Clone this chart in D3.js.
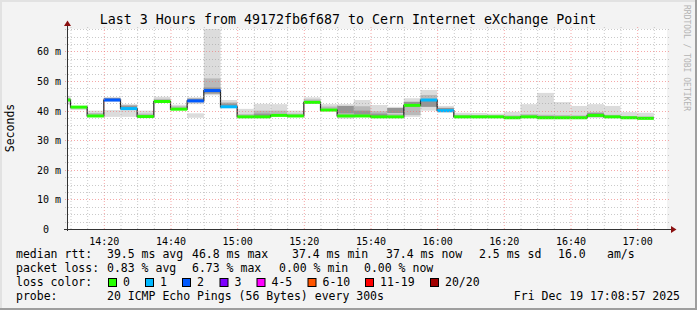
<!DOCTYPE html>
<html><head><meta charset="utf-8">
<script src="https://cdn.jsdelivr.net/npm/d3@7"></script>
<style>html,body{margin:0;padding:0;background:#f0f0f0;}svg{display:block;font-family:"DejaVu Sans Mono",monospace;}</style>
</head><body>
<script>
// ---- data ----
const intervalEnds = ["14:10","14:15","14:20","14:25","14:30","14:35","14:40","14:45","14:50","14:55",
  "15:00","15:05","15:10","15:15","15:20","15:25","15:30","15:35","15:40","15:45",
  "15:50","15:55","16:00","16:05","16:10","16:15","16:20","16:25","16:30","16:35",
  "16:40","16:45","16:50","16:55","17:00","17:05"];
const medianMs = [43.6,41.2,38.2,43.6,40.7,38.0,43.1,40.5,43.3,46.8,
  41.3,37.9,37.9,38.4,38.2,42.8,40.2,38.2,38.2,37.9,
  37.9,41.8,43.6,40.0,37.9,37.9,37.9,37.6,37.9,37.6,
  37.6,37.6,38.4,37.9,37.6,37.4];
const lossCount = [0,0,0,2,1,0,0,0,2,2,
  1,0,0,0,0,0,0,0,0,0,
  0,0,1,1,0,0,0,0,0,0,
  0,0,0,0,0,0];
const smokeLo = [42.0,40.2,38.0,43.0,37.9,37.8,42.7,40.4,42.2,45.2,
  41.0,37.8,37.8,38.2,38.2,42.6,40.2,37.3,38.0,37.8,
  37.8,37.9,40.0,39.3,37.8,37.8,37.8,37.5,37.8,37.5,
  37.5,37.5,37.5,37.8,37.5,37.3];
const smokeHi = [45.0,41.5,40.0,44.6,42.2,40.0,44.7,42.0,44.5,75.0,
  43.6,40.6,42.3,42.2,40.0,44.5,42.2,42.2,43.6,41.9,
  41.3,44.2,47.0,41.6,39.3,39.2,39.0,39.6,42.2,46.0,
  42.9,41.6,42.2,41.6,39.5,39.3];
const coreLo = [43.2,40.8,38.2,43.3,40.8,38.2,43.0,40.6,42.8,45.6,
  41.3,38.0,38.0,38.4,38.3,42.9,40.4,38.2,38.9,38.0,
  37.9,38.5,41.3,40.0,37.9,37.9,37.9,37.6,37.9,37.6,
  37.6,37.6,37.8,37.9,37.6,37.4];
const coreHi = [44.3,41.3,39.2,44.3,41.8,39.0,44.0,41.5,44.2,50.9,
  42.8,38.8,40.0,40.0,39.0,43.8,41.4,40.0,41.5,39.8,
  39.0,41.3,45.3,41.0,38.6,38.5,38.4,38.4,38.8,38.6,
  38.5,38.4,39.5,38.6,38.2,38.0];
// darker inner smoke (null = none visible)
const innerLo = [null,null,null,43.6,41.0,null,null,null,43.3,45.8,
  41.6,null,38.1,null,null,null,null,39.1,38.6,38.1,
  39.2,41.3,41.3,40.2,null,null,null,null,null,37.7,
  null,null,37.9,null,null,null];
const innerHi = [null,null,null,44.2,41.7,null,null,null,44.0,47.8,
  42.4,null,39.0,null,null,null,null,41.6,40.0,39.0,
  40.9,43.0,43.3,40.9,null,null,null,null,null,38.2,
  null,null,39.2,null,null,null];
// secondary smoke clusters (null = none)
const smoke2Lo = [null,null,null,37.9,null,null,null,null,37.6,null,
  null,null,null,null,null,null,null,null,null,null,
  null,null,null,null,null,null,null,null,null,null,
  null,null,null,null,null,null];
const smoke2Hi = [null,null,null,40.2,null,null,null,null,39.1,null,
  null,null,null,null,null,null,null,null,null,null,
  null,null,null,null,null,null,null,null,null,null,
  null,null,null,null,null,null];
const yTicks = [0,10,20,30,40,50,60];
const yTickLabels = ["0  ","10 m","20 m","30 m","40 m","50 m","60 m"];
const lossLegend = ["0","1","2","3","4-5","6-10","11-19","20/20"];
const lossColors = ["#26ff00","#00b8ff","#0059ff","#7e00ff","#ff00ff","#ff5500","#ff0000","#a10000"];
const title = "Last 3 Hours from 49172fb6f687 to Cern Internet eXchange Point";
const rttStats = [["median rtt:",16],["39.5 ms avg",107],["46.8 ms max",192],["37.4 ms min",292],["37.4 ms now",386],["2.5 ms sd",479],["16.0",558],["am/s",607]];
const lossStats = [["packet loss:",16],["0.83 % avg",107],["6.73 % max",192],["0.00 % min",279],["0.00 % now",364]];
const probeText = "20 ICMP Echo Pings (56 Bytes) every 300s";
const stampText = "Fri Dec 19 17:08:57 2025";

// ---- layout ----
const W=697,H=310, X0=67, X1=667, Y0=229, Y1=29;
const tStart = new Date(2025,11,19,14,8,57), tEnd = new Date(2025,11,19,17,8,57);
const x = d3.scaleTime().domain([tStart,tEnd]).range([X0,X1]);
const y = d3.scaleLinear().domain([0,67.6]).range([Y0,Y1]);
const parseT = s => { const [h,m]=s.split(":").map(Number); return new Date(2025,11,19,h,m,0); };
const data = intervalEnds.map((s,i)=>{
  const te = parseT(s); let ts = new Date(te.getTime()-300000); if (ts<tStart) ts=tStart;
  return {ts,te,med:medianMs[i],loss:lossCount[i],lo:smokeLo[i],hi:smokeHi[i],clo:coreLo[i],chi:coreHi[i],
    ilo:innerLo[i],ihi:innerHi[i],lo2:smoke2Lo[i],hi2:smoke2Hi[i]};
});
const lossColor = n => n===0?lossColors[0]:n===1?lossColors[1]:n===2?lossColors[2]:n===3?lossColors[3]:n<=5?lossColors[4]:n<=10?lossColors[5]:n<=19?lossColors[6]:lossColors[7];

const svg = d3.select("body").append("svg").attr("width",W).attr("height",H);
svg.append("rect").attr("width",W).attr("height",H).attr("fill","#f3f3f3");
// frame shading
svg.append("rect").attr("x",0).attr("y",0).attr("width",W).attr("height",2).attr("fill","#e2e2e2");
svg.append("rect").attr("x",0).attr("y",0).attr("width",2).attr("height",H).attr("fill","#e2e2e2");
svg.append("rect").attr("x",0).attr("y",H-2).attr("width",W).attr("height",2).attr("fill","#9e9e9e");
svg.append("rect").attr("x",W-2).attr("y",0).attr("width",2).attr("height",H).attr("fill","#9e9e9e");

svg.append("rect").attr("x",X0).attr("y",Y1).attr("width",X1-X0).attr("height",Y0-Y1).attr("fill","#ffffff");
svg.append("defs").append("clipPath").attr("id","clip").append("rect").attr("x",X0).attr("y",Y1).attr("width",X1-X0).attr("height",Y0-Y1);

const plot = svg.append("g").attr("clip-path","url(#clip)");
// smoke
const band = (lo,hi,fill)=>plot.append("g").selectAll("rect").data(data.filter(d=>d[lo]!=null)).join("rect")
  .attr("x",d=>x(d.ts)).attr("width",d=>x(d.te)-x(d.ts))
  .attr("y",d=>y(d[hi])).attr("height",d=>y(d[lo])-y(d[hi])).attr("fill",fill);
band("lo","hi","#dcdcdc");
band("lo2","hi2","#dcdcdc");
band("clo","chi","#b9b9b9");
band("ilo","ihi","#959595");

// grid
const grid = svg.append("g");
const minorT = d3.timeMinute.every(5).range(tStart,tEnd);
minorT.forEach(t=>{
  const major = t.getMinutes()%20===0;
  grid.append("line").attr("x1",x(t)+0.5).attr("x2",x(t)+0.5).attr("y1",Y1-2).attr("y2",Y0+2)
    .attr("stroke",major?"rgba(240,110,110,0.6)":"rgba(150,150,150,0.5)").attr("stroke-dasharray","1,2");
});
d3.range(0,67.6,2.5).forEach(v=>{
  if (v===0) return;
  const major = v%10===0;
  grid.append("line").attr("x1",X0-2).attr("x2",X1+2).attr("y1",Math.round(y(v))+0.5).attr("y2",Math.round(y(v))+0.5)
    .attr("stroke",major?"rgba(240,110,110,0.6)":"rgba(150,150,150,0.5)").attr("stroke-dasharray","1,2");
});

// median black step line
const pts = [];
data.forEach(d=>{ pts.push([x(d.ts),y(d.med)]); pts.push([x(d.te),y(d.med)]); });
plot.append("path").attr("d",d3.line()(pts)).attr("fill","none").attr("stroke","#202020").attr("stroke-width",1.2);
// colored median segments
plot.append("g").selectAll("line").data(data).join("line")
  .attr("x1",d=>x(d.ts)).attr("x2",d=>x(d.te)).attr("y1",d=>y(d.med)).attr("y2",d=>y(d.med))
  .attr("stroke",d=>lossColor(d.loss)).attr("stroke-width",3);

// axes
const ax = svg.append("g");
ax.append("line").attr("x1",X0+0.5).attr("x2",X0+0.5).attr("y1",Y0+2).attr("y2",25).attr("stroke","#333");
ax.append("path").attr("d",`M${X0-3},26L${X0+0.5},20.5L${X0+4},26Z`).attr("fill","#8b1010");
ax.append("line").attr("x1",X0-3).attr("x2",672).attr("y1",Y0+0.5).attr("y2",Y0+0.5).attr("stroke","#333");
ax.append("path").attr("d",`M671,${Y0-3}L676.5,${Y0+0.5}L671,${Y0+4}Z`).attr("fill","#8b1010");

// tick labels
const xa = svg.append("g").attr("transform",`translate(0,${Y0})`)
  .call(d3.axisBottom(x).ticks(d3.timeMinute.every(20)).tickFormat(d3.timeFormat("%H:%M")).tickSize(0).tickPadding(9));
xa.select(".domain").remove();
xa.selectAll("text").attr("font-family","DejaVu Sans Mono").attr("font-size","10px").attr("fill","#000");
const ya = svg.append("g").attr("transform",`translate(61,0)`)
  .call(d3.axisLeft(y).tickValues(yTicks).tickFormat((d,i)=>yTickLabels[i]).tickSize(0).tickPadding(0));
ya.select(".domain").remove();
ya.selectAll("text").attr("font-family","DejaVu Sans Mono").attr("font-size","10px").attr("fill","#000")
  .attr("text-anchor","end").attr("dy","0.35em").style("white-space","pre");

// title and labels
svg.append("text").attr("x",348).attr("y",24).attr("text-anchor","middle").attr("font-size","13.3px").text(title);
svg.append("text").attr("transform","translate(14,128) rotate(-90)").attr("text-anchor","middle").attr("font-size","11.5px").text("Seconds");
svg.append("text").attr("transform","translate(684,5) rotate(90)").attr("font-size","8px").attr("fill","#b4b4b4").text("RRDTOOL / TOBI OETIKER");

const leg = svg.append("g").attr("font-size","11.5px").attr("fill","#000");
rttStats.forEach(([t,px])=>leg.append("text").attr("x",px).attr("y",258).text(t));
lossStats.forEach(([t,px])=>leg.append("text").attr("x",px).attr("y",272).text(t));
leg.append("text").attr("x",16).attr("y",286).text("loss color:");
const boxX=[108,145,182,219.5,256.5,307.5,365,430];
lossLegend.forEach((t,i)=>{
  leg.append("rect").attr("x",boxX[i]+0.5).attr("y",278.5).attr("width",8).attr("height",8).attr("fill",lossColors[i]).attr("stroke","#000").attr("stroke-width",1);
  leg.append("text").attr("x",boxX[i]+15).attr("y",286).text(t);
});
leg.append("text").attr("x",16).attr("y",300).text("probe:");
leg.append("text").attr("x",107).attr("y",300).text(probeText);
leg.append("text").attr("x",680).attr("y",300).attr("text-anchor","end").text(stampText);
</script>
</body></html>
